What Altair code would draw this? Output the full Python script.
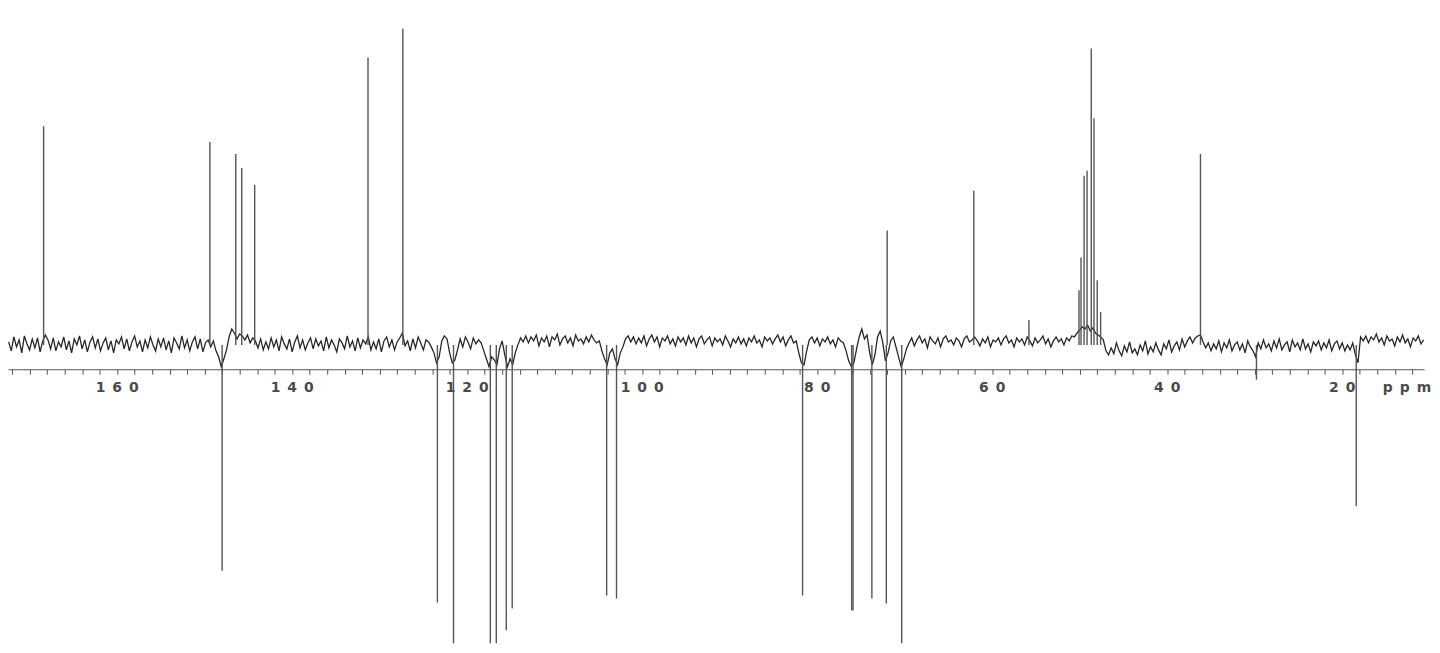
import altair as alt
import pandas as pd

# ---- baseline noise (every 0.3 ppm from 172.4 ppm) ----
noise = [
    3, -6, 8, -2, 5, -8, 9, 1, -5, 6, -3, 7, -7, 4, 10, 5, -4, 7, -6, 3,
    -2, 8, -5, 4, -8, 6, 0, 9, -4, 5, -7, 3, 8, -3, 6, -6, 2, 7, -5, 4,
    -8, 5, 1, 8, -4, 6, -6, 3, 9, -2, 4, -7, 5, -3, 8, 0, -6, 6, -2, 7,
    -5, 4, -8, 7, 2, -4, 9, -3, 5, -6, 3, 8, -4, 6, -7, 2, 5, -2, 4, -6,
    -12, -22, -14, -5, 8, 16, 12, 6, 11, 9, 5, 10, 2, 7, 4, -3, 6, -5, 3, -4,
    7, -2, 5, -6, 8, 1, -4, 6, -7, 3, 9, -3, 5, -5, 2, 7, -4, 6, -1, 4,
    -6, 8, -3, 5, 0, -7, 6, 2, -4, 9, -2, 4, -6, 7, -3, 5, 1, 8, -5, 3,
    -4, 6, -7, 4, 8, -2, 5, -5, 3, 7, 12, -1, 4, -6, 6, -3, 8, 2, -5, 5,
    3, -2, -8, -18, -12, 4, 9, 6, -8, -18, -15, -5, 6, -2, 8, 3, -4, 7, 1, 5,
    2, -6, -14, -22, -12, -15, -20, -4, 4, -10, -22, -14, -20, -8, 0, 7, 3, 9, 2, 8,
    4, 10, -1, 7, 3, 9, -2, 8, 5, 11, 0, 6, 9, 2, 7, -1, 10, 4, 6, 1,
    8, 3, 10, 5, 2, 4, -6, -14, -20, -8, -4, -14, -20, -8, -2, 6, 9, 3, 8, 1,
    7, 2, 9, -1, 6, 10, 3, 8, -2, 7, 4, 9, 1, 6, -1, 8, 3, 7, 0, 9,
    2, 7, -2, 6, 9, 1, 5, 8, -1, 7, 3, 6, 0, 9, 4, -2, 6, 2, 8, 1,
    6, -1, 7, 3, 9, 2, 5, -2, 8, 4, 7, 1, 6, 10, 3, 8, -1, 5, 9, 2,
    4, -8, -18, -20, -6, 5, 8, 2, 7, -1, 6, 3, 8, 1, 5, -2, 7, 4, 2, -6,
    -16, -22, -18, -4, 8, 16, 6, 10, -8, -20, -10, 8, 14, 2, -16, -8, 4, 8, -2, -12,
    -22, -14, -4, 2, 7, -1, 5, 9, 2, 6, -3, 8, 4, 1, 7, -2, 6, 9, 3, 5,
    0, 7, 4, -2, 6, 9, 3, 5, 8, 4, -1, 6, 2, 8, -2, 5, 3, 7, 0, 6,
    9, 2, 5, -2, 7, 3, 6, 0, 8, 4, -1, 7, 2, 5, 9, 1, 6, -2, 4, 8,
    3, 6, 0, 7, 4, 9, 8, 12, 15, 18, 16, 20, 14, 17, 12, 10, 8, 5, -6, -10,
    -3, -9, 2, -6, -11, -1, -7, 3, -8, -4, -10, 0, -6, 4, -9, -2, -7, 2, -5, -10,
    1, -4, 5, -7, -1, 3, -5, 6, -2, 4, 8, 2, 7, 9, 10, 3, -3, 2, -6, 1,
    -4, 4, -7, 2, -3, 5, -6, 0, 3, -5, 1, -8, 4, -2, -6, -12, 2, -4, 5, -3,
    1, -6, 4, -3, 6, -5, 0, 3, -7, 5, -2, 2, -5, 6, -4, 1, -7, 3, -1, 4,
    -5, 2, -3, 5, -6, 1, 4, -4, 2, -6, 0, -5, 2, -10, -18, 8, 4, 9, 2, 8,
    5, 11, 3, 7, 0, 9, 4, 6, -1, 8, 3, 10, 2, 6, -2, 7, 4, 9, 1, 5,
]
noise_ppm = [round(172.4 - 0.3 * i, 2) for i in range(len(noise))]

# ---- peaks (ppm, intensity relative to baseline) ----
pos_ppm = [168.4, 149.4, 146.44, 145.76, 144.28, 131.33, 127.35, 72.0, 62.1, 55.8,
           50.08, 49.85, 49.5, 49.16, 48.68, 48.37, 48.0, 47.61, 36.2]
pos_int = [220, 204, 192, 178, 161, 289, 318, 115, 155, 25,
           55, 88, 170, 175, 298, 228, 65, 33, 192]
neg_ppm = [148.0, 123.4, 121.56, 117.35, 116.67, 115.53, 114.85, 104.06, 102.93,
           81.67, 76.06, 75.9, 73.75, 72.1, 70.34, 29.8, 18.4]
neg_int = [-227, -259, -340, -340, -340, -287, -265, -252, -255,
           -252, -267, -267, -255, -260, -340, -35, -162]

# ---- axis ----
minor_ticks = list(range(12, 173, 2))
label_values = [160, 140, 120, 100, 80, 60, 40, 20]
label_texts = ["\u2002".join(str(v)) for v in label_values]

noise_df = pd.DataFrame({"ppm": noise_ppm, "intensity": noise})
peaks_df = pd.DataFrame({"ppm": pos_ppm + neg_ppm, "intensity": pos_int + neg_int})
peaks_df["base"] = 0
labels_df = pd.DataFrame({"ppm": label_values, "label": label_texts})
labels_df["ly"] = -43
ppm_df = pd.DataFrame({"ppm": [12.6], "label": ["p\u2002p\u2002m"], "ly": [-43]})

x_scale = alt.Scale(domain=[172.47, 10.65], nice=False, zero=False)
y_scale = alt.Scale(domain=[-300, 337], nice=False, zero=False)

x_axis = alt.Axis(
    values=minor_ticks, labels=False, title=None, grid=False,
    offset=-275.5, domainColor="#555555", domainWidth=1,
    tickColor="#555555", tickWidth=1, tickSize=5,
)

base_line = alt.Chart(noise_df).mark_line(color="#262626", strokeWidth=1.3, clip=True).encode(
    x=alt.X("ppm:Q", scale=x_scale, axis=x_axis),
    y=alt.Y("intensity:Q", scale=y_scale, axis=None),
)

peaks = alt.Chart(peaks_df).mark_rule(color="#555555", strokeWidth=1.4, clip=True).encode(
    x=alt.X("ppm:Q", scale=x_scale, axis=x_axis),
    y=alt.Y("base:Q", scale=y_scale, axis=None),
    y2=alt.Y2("intensity:Q"),
)

text_props = dict(font="DejaVu Sans", fontSize=14, fontWeight="bold", color="#4a4a4a",
                  align="center", baseline="middle")

labels = alt.Chart(labels_df).mark_text(**text_props).encode(
    x=alt.X("ppm:Q", scale=x_scale, axis=x_axis),
    y=alt.Y("ly:Q", scale=y_scale, axis=None),
    text="label:N",
)

ppm_label = alt.Chart(ppm_df).mark_text(**text_props).encode(
    x=alt.X("ppm:Q", scale=x_scale, axis=x_axis),
    y=alt.Y("ly:Q", scale=y_scale, axis=None),
    text="label:N",
)

chart = alt.layer(base_line, peaks, labels, ppm_label).properties(
    width=1424, height=637, padding=0, background="#ffffff"
).configure_view(stroke=None)

chart.save("out.html", embed_options={"renderer": "svg", "actions": False})
